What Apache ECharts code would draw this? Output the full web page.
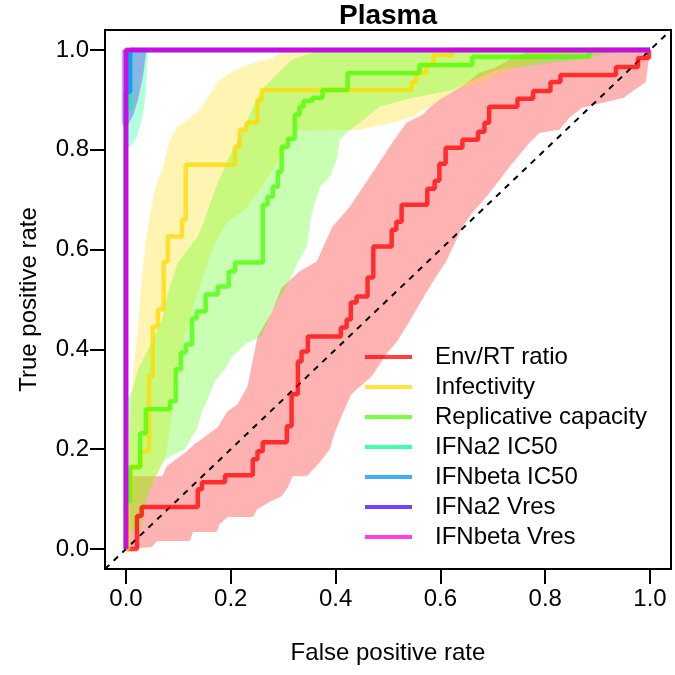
<!DOCTYPE html>
<html>
<head>
<meta charset="utf-8">
<title>Plasma ROC</title>
<script src="https://cdn.jsdelivr.net/npm/echarts@6.0.0/dist/echarts.min.js"></script>
<style>
  html, body { margin: 0; padding: 0; background: #fff; }
  #chart { width: 675px; height: 675px; }
</style>
</head>
<body>
<div id="chart"></div>
<script>
// ROC curves, [fpr, tpr] at the top of each vertical step
var envRoc = [[0,0],[0.021,0.066],[0.030,0.084],[0.137,0.12],[0.145,0.134],[0.189,0.148],[0.242,0.18],[0.251,0.196],[0.261,0.214],[0.307,0.246],[0.316,0.31],[0.328,0.376],[0.335,0.396],[0.347,0.426],[0.410,0.444],[0.421,0.46],[0.429,0.494],[0.440,0.506],[0.461,0.544],[0.472,0.606],[0.507,0.64],[0.516,0.656],[0.526,0.69],[0.575,0.722],[0.589,0.738],[0.598,0.772],[0.610,0.804],[0.642,0.82],[0.672,0.836],[0.684,0.854],[0.693,0.886],[0.747,0.902],[0.777,0.918],[0.810,0.936],[0.829,0.95],[0.935,0.966],[0.977,0.984],[0.998,1],[1,1]];
var infRoc = [[0,0],[0.004,0.1],[0.0095,0.166],[0.028,0.196],[0.044,0.346],[0.051,0.446],[0.061,0.48],[0.072,0.576],[0.08,0.626],[0.107,0.66],[0.114,0.77],[0.208,0.806],[0.217,0.84],[0.23,0.854],[0.251,0.9],[0.259,0.92],[0.545,0.936],[0.554,0.954],[0.573,0.97],[0.587,0.99],[0.623,1],[1,1]];
var repRoc = [[0,0],[0,0.096],[0.008,0.164],[0.027,0.232],[0.038,0.28],[0.084,0.296],[0.095,0.36],[0.105,0.394],[0.114,0.41],[0.126,0.462],[0.135,0.476],[0.152,0.51],[0.175,0.526],[0.196,0.556],[0.208,0.574],[0.261,0.69],[0.27,0.706],[0.28,0.726],[0.29,0.756],[0.297,0.806],[0.309,0.822],[0.322,0.87],[0.331,0.886],[0.339,0.898],[0.356,0.904],[0.375,0.92],[0.423,0.954],[0.56,0.97],[0.661,0.986],[0.884,1],[1,1]];
var a2IcRoc = [[0,0],[0,0.884],[0.008,1],[1,1]];
var bIcRoc = [[0,0],[0,0.916],[0.008,1],[1,1]];
var a2VresRoc = [[0,0],[0,1],[1,1]];
var bVresRoc = [[0,0],[0,1],[1,1]];

// confidence bands: upper (left) edge and lower (right) edge
var envHi = [[0,0],[0,0.146],[0.069,0.146],[0.078,0.166],[0.116,0.196],[0.131,0.21],[0.175,0.244],[0.194,0.276],[0.213,0.29],[0.232,0.326],[0.251,0.426],[0.278,0.474],[0.297,0.524],[0.331,0.556],[0.364,0.576],[0.394,0.646],[0.427,0.686],[0.478,0.766],[0.503,0.806],[0.535,0.854],[0.566,0.87],[0.579,0.884],[0.598,0.9],[0.623,0.916],[0.65,0.934],[0.674,0.954],[0.707,0.966],[0.737,0.984],[0.775,1],[1,1]];
var envLo = [[0,0],[0.05,0.004],[0.059,0.016],[0.122,0.016],[0.128,0.034],[0.173,0.034],[0.179,0.05],[0.194,0.064],[0.242,0.064],[0.251,0.08],[0.274,0.094],[0.297,0.106],[0.309,0.124],[0.318,0.146],[0.345,0.146],[0.37,0.174],[0.389,0.2],[0.396,0.226],[0.411,0.266],[0.43,0.31],[0.469,0.346],[0.499,0.394],[0.516,0.414],[0.541,0.456],[0.573,0.514],[0.592,0.546],[0.611,0.576],[0.642,0.646],[0.661,0.674],[0.688,0.706],[0.735,0.77],[0.77,0.814],[0.789,0.834],[0.827,0.84],[0.846,0.864],[0.87,0.884],[0.95,0.904],[0.97,0.92],[0.992,0.936],[1,1]];
var infHi = [[0,0],[0.004,0.16],[0.008,0.26],[0.013,0.346],[0.023,0.446],[0.03,0.54],[0.038,0.62],[0.046,0.67],[0.055,0.72],[0.069,0.76],[0.084,0.82],[0.099,0.846],[0.118,0.86],[0.141,0.88],[0.175,0.936],[0.192,0.95],[0.23,0.97],[0.28,0.984],[0.303,1],[1,1]];
var infLo = [[0,0],[0.027,0.08],[0.055,0.14],[0.074,0.18],[0.084,0.24],[0.093,0.32],[0.112,0.426],[0.131,0.494],[0.156,0.574],[0.17,0.614],[0.194,0.656],[0.227,0.68],[0.259,0.726],[0.284,0.766],[0.322,0.834],[0.331,0.838],[0.446,0.84],[0.509,0.854],[0.547,0.866],[0.592,0.894],[0.63,0.92],[0.674,0.934],[0.731,0.96],[0.798,0.98],[0.884,0.996],[0.941,1],[1,1]];
var repHi = [[0.002,0.034],[0.002,0.3],[0.013,0.32],[0.023,0.36],[0.042,0.4],[0.069,0.46],[0.08,0.514],[0.099,0.574],[0.137,0.626],[0.15,0.66],[0.17,0.72],[0.194,0.78],[0.221,0.834],[0.24,0.88],[0.259,0.92],[0.29,0.954],[0.316,0.98],[0.36,0.996],[0.389,1],[1,1]];
var repLo = [[0.002,0.034],[0.027,0.034],[0.04,0.1],[0.055,0.144],[0.074,0.18],[0.112,0.2],[0.135,0.24],[0.145,0.274],[0.17,0.336],[0.189,0.36],[0.202,0.386],[0.232,0.414],[0.259,0.426],[0.28,0.48],[0.307,0.526],[0.326,0.57],[0.345,0.606],[0.354,0.67],[0.37,0.726],[0.389,0.746],[0.402,0.78],[0.408,0.82],[0.427,0.84],[0.446,0.854],[0.484,0.886],[0.547,0.904],[0.623,0.92],[0.65,0.934],[0.707,0.96],[0.832,0.976],[0.935,0.996],[1,1]];
var a2IcHi = [[0,0.8],[0,1],[0.042,1]];
var a2IcLo = [[0,0.8],[0.008,0.806],[0.021,0.826],[0.032,0.866],[0.038,0.916],[0.042,1]];
var bIcHi = [[-0.008,0.85],[-0.008,1],[0.039,1]];
var bIcLo = [[-0.008,0.85],[0.004,0.85],[0.014,0.87],[0.023,0.9],[0.033,0.95],[0.039,1]];

var names = ['Env/RT ratio', 'Infectivity', 'Replicative capacity', 'IFNa2 IC50', 'IFNbeta IC50', 'IFNa2 Vres', 'IFNbeta Vres'];
var rocs = [envRoc, infRoc, repRoc, a2IcRoc, bIcRoc, a2VresRoc, bVresRoc];
// R rainbow(7)
var rgb = ['255,0,0', '255,219,0', '73,255,0', '0,255,146', '0,146,255', '73,0,255', '255,0,219'];
var bands = [
  [envHi, envLo, 'rgba(255,0,0,0.3)'],
  [infHi, infLo, 'rgba(255,219,0,0.3)'],
  [repHi, repLo, 'rgba(73,255,0,0.3)'],
  [a2IcHi, a2IcLo, 'rgba(0,255,146,0.3)'],
  [bIcHi, bIcLo, 'rgba(80,80,240,0.42)']
];

var diagonal = [[-0.04, -0.04], [1.04, 1.04]];
var tickValues = [0, 0.2, 0.4, 0.6, 0.8, 1.0];

var font = 'Liberation Sans';

function bandSeries(hi, lo, fill, i) {
  var pts = hi.concat(lo.slice().reverse());
  return {
    type: 'custom',
    name: 'band' + i,
    silent: true,
    z: 1,
    data: [0],
    renderItem: function (params, api) {
      return {
        type: 'polygon',
        shape: { points: pts.map(function (p) { return api.coord(p); }) },
        style: { fill: fill }
      };
    }
  };
}

var series = bands.map(function (b, i) { return bandSeries(b[0], b[1], b[2], i); });

series.push({
  type: 'line',
  name: 'diag',
  data: diagonal,
  symbol: 'none',
  silent: true,
  z: 2,
  lineStyle: { color: '#000', width: 2, type: [6, 6] }
});

names.forEach(function (n, i) {
  var col = 'rgba(' + rgb[i] + ',0.75)';
  series.push({
    type: 'line',
    name: n,
    data: rocs[i],
    step: 'end',
    symbol: 'none',
    z: 3,
    lineStyle: { color: col, width: 4.5 },
    itemStyle: { color: col }
  });
});

function axisCommon() {
  return {
    type: 'value',
    min: -0.04,
    max: 1.04,
    axisLine: { show: false, onZero: false },
    splitLine: { show: false },
    axisTick: { show: true, inside: false, length: 15, customValues: tickValues, lineStyle: { color: '#000', width: 2 } },
    axisLabel: {
      customValues: tickValues,
      color: '#000',
      fontSize: 24,
      fontFamily: font,
      formatter: function (v) { return v.toFixed(1); }
    },
    nameLocation: 'middle',
    nameTextStyle: { color: '#000', fontSize: 24, fontFamily: font }
  };
}

var xAxis = axisCommon();
xAxis.name = 'False positive rate';
xAxis.nameGap = 72;
xAxis.axisLabel.margin = 18;

var yAxis = axisCommon();
yAxis.name = 'True positive rate';
yAxis.nameGap = 64;
yAxis.axisLabel.margin = 16;

var chart = echarts.init(document.getElementById('chart'));
chart.setOption({
  animation: false,
  textStyle: { fontFamily: font },
  title: {
    text: 'Plasma',
    left: 388,
    textAlign: 'center',
    top: 2,
    padding: 0,
    textStyle: { fontSize: 28, fontWeight: 'bold', color: '#000', fontFamily: font }
  },
  grid: {
    left: 105, top: 30, width: 566, height: 539,
    show: true, borderColor: '#000', borderWidth: 2, backgroundColor: 'transparent'
  },
  legend: {
    data: names,
    orient: 'vertical',
    icon: 'rect',
    left: 365,
    top: 345,
    padding: 0,
    itemWidth: 47,
    itemHeight: 4,
    itemGap: 6,
    selectedMode: false,
    textStyle: { fontSize: 24, lineHeight: 24, color: '#000', fontFamily: font, padding: [0, 0, 0, 18] }
  },
  xAxis: xAxis,
  yAxis: yAxis,
  series: series
});
</script>
</body>
</html>
